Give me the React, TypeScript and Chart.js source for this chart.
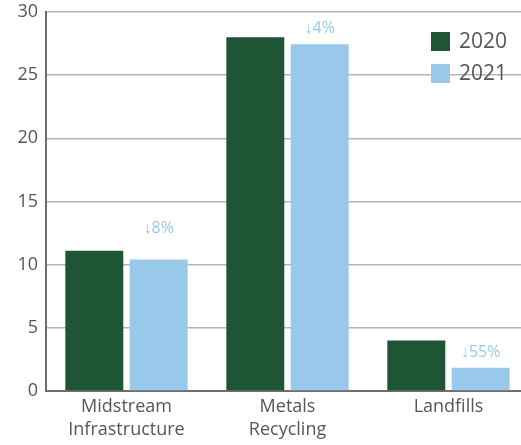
import React, { useEffect, useRef } from "react";
import { Chart, registerables } from "chart.js";

Chart.register(...registerables);

const categories: string[][] = [["Midstream", "Infrastructure"], ["Metals", "Recycling"], ["Landfills"]];
const seriesNames = ["2020", "2021"];
const values2020 = [11.1, 28.0, 4.0];
const values2021 = [10.4, 27.45, 1.85];
const changeLabels = ["↓8%", "↓4%", "↓55%"];
const labelOffsets = [31, 16, 15.5];
const yTicks = [0, 5, 10, 15, 20, 25, 30];

const GREEN = "#1e5534";
const BLUE = "#98c9ea";
const TEXT = "#555659";
const FONT = "'Open Sans', sans-serif";

const overlayPlugin = {
  id: "overlay",
  afterDatasetsDraw(chart: any) {
    const ctx = chart.ctx;
    ctx.save();
    const meta = chart.getDatasetMeta(1);
    ctx.font = `16px ${FONT}`;
    ctx.fillStyle = BLUE;
    ctx.textAlign = "center";
    ctx.textBaseline = "middle";
    meta.data.forEach((bar: any, i: number) => {
      ctx.fillText(changeLabels[i], bar.x, bar.y - labelOffsets[i]);
    });
    const colors = [GREEN, BLUE];
    const lx = 431;
    const ly = 32;
    ctx.textAlign = "left";
    ctx.font = `21px ${FONT}`;
    seriesNames.forEach((name, i) => {
      ctx.fillStyle = colors[i];
      ctx.fillRect(lx, ly + i * 32, 19, 19);
      ctx.fillStyle = TEXT;
      ctx.fillText(name, lx + 28, ly + i * 32 + 10.5);
    });
    ctx.restore();
  },
};

export default function App() {
  const ref = useRef<HTMLCanvasElement>(null);
  useEffect(() => {
    if (!ref.current) return;
    const chart = new Chart(ref.current, {
      type: "bar",
      data: {
        labels: categories,
        datasets: [
          { label: seriesNames[0], data: values2020, backgroundColor: GREEN },
          { label: seriesNames[1], data: values2021, backgroundColor: BLUE },
        ],
      },
      options: {
        animation: false,
        responsive: false,
        maintainAspectRatio: false,
        layout: { padding: { top: 12, right: 1, left: 0, bottom: 0 } },
        plugins: { legend: { display: false }, tooltip: { enabled: false } },
        scales: {
          x: {
            grid: { display: false, drawTicks: false },
            border: { display: true, color: "#6d6e71", width: 2 },
            ticks: { color: TEXT, font: { family: FONT, size: 18, lineHeight: 1.3 }, padding: 4 },
            afterFit: (s: any) => { s.height = 54; },
          },
          y: {
            min: 0,
            max: 30,
            afterBuildTicks: (s: any) => { s.ticks = yTicks.map((v) => ({ value: v })); },
            grid: { color: "#b5b5b5", lineWidth: 1.5, drawTicks: false },
            border: { display: true, color: "#6d6e71", width: 2 },
            ticks: { color: TEXT, font: { family: FONT, size: 18, lineHeight: 1 }, padding: 8 },
            afterFit: (s: any) => { s.width = 46; s.paddingTop = 0; s.paddingBottom = 0; },
          },
        },
      },
      plugins: [overlayPlugin],
    });
    return () => chart.destroy();
  }, []);
  return (
    <div style={{ position: "absolute", left: 0, top: 0, width: 521, height: 445, overflow: "hidden" }}>
      <canvas ref={ref} width={530} height={445} style={{ display: "block" }} />
    </div>
  );
}
